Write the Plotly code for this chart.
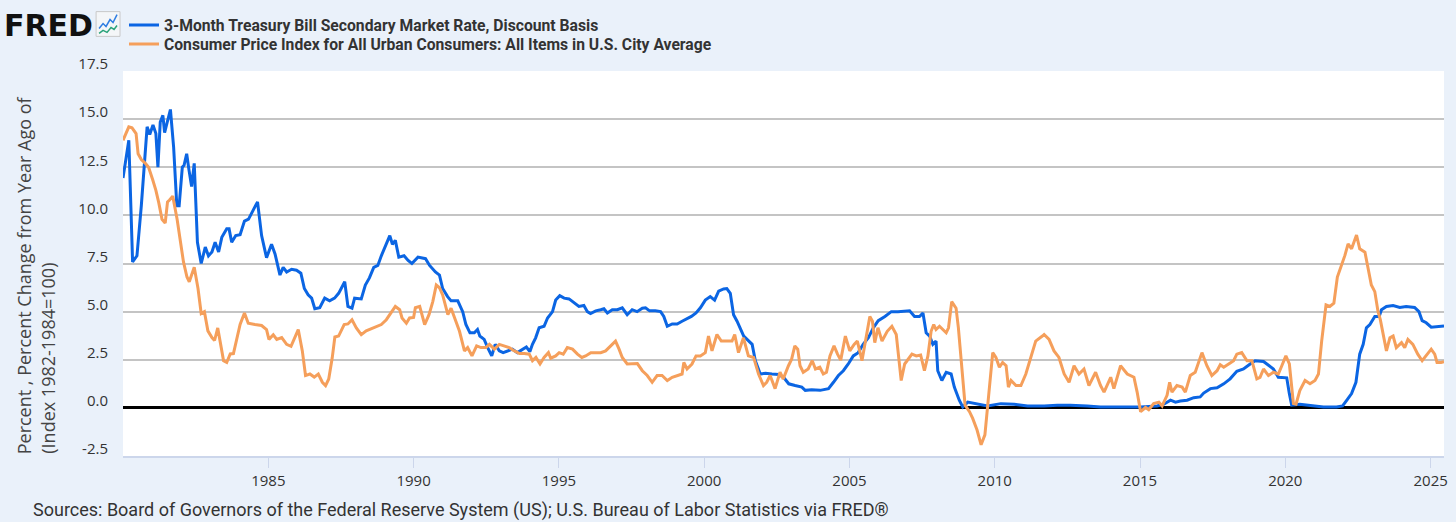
import pandas as pd
import plotly.graph_objects as go

# 3-Month Treasury Bill Secondary Market Rate, Discount Basis (percent)
tbill_t = [1980.0, 1980.2, 1980.33, 1980.48, 1980.63, 1980.83, 1980.92, 1981.03, 1981.13, 1981.2,
           1981.28, 1981.37, 1981.43, 1981.51, 1981.63, 1981.74, 1981.85, 1981.93, 1982.04, 1982.1,
           1982.19, 1982.27, 1982.36, 1982.45, 1982.56, 1982.69, 1982.83, 1982.94, 1983.06, 1983.17,
           1983.29, 1983.4, 1983.57, 1983.65, 1983.74, 1983.88, 1984.03, 1984.18, 1984.32, 1984.49,
           1984.63, 1984.77, 1984.94, 1985.11, 1985.23, 1985.4, 1985.51, 1985.63, 1985.8, 1985.97,
           1986.12, 1986.24, 1986.37, 1986.49, 1986.6, 1986.77, 1986.94, 1987.11, 1987.28, 1987.42,
           1987.63, 1987.74, 1987.88, 1987.97, 1988.2, 1988.34, 1988.48, 1988.63, 1988.77, 1988.89,
           1989.03, 1989.18, 1989.27, 1989.37, 1989.49, 1989.67, 1989.81, 1989.94, 1990.15, 1990.41,
           1990.55, 1990.75, 1990.89, 1991.0, 1991.17, 1991.29, 1991.52, 1991.69, 1991.8, 1991.94,
           1992.09, 1992.2, 1992.28, 1992.43, 1992.55, 1992.69, 1992.81, 1992.95, 1993.08, 1993.26,
           1993.4, 1993.57, 1993.75, 1993.88, 1994.0, 1994.09, 1994.2, 1994.32, 1994.49, 1994.61,
           1994.78, 1994.89, 1995.03, 1995.18, 1995.35, 1995.52, 1995.69, 1995.86, 1995.98, 1996.09,
           1996.27, 1996.44, 1996.55, 1996.67, 1996.84, 1997.01, 1997.18, 1997.35, 1997.52, 1997.69,
           1997.87, 1997.98, 1998.12, 1998.32, 1998.5, 1998.61, 1998.73, 1998.9, 1999.07, 1999.24,
           1999.41, 1999.56, 1999.72, 1999.87, 2000.04, 2000.21, 2000.36, 2000.5, 2000.67, 2000.78,
           2000.9, 2001.01, 2001.13, 2001.36, 2001.65, 2001.76, 2001.93, 2002.11, 2002.33, 2002.56,
           2002.73, 2002.91, 2003.13, 2003.36, 2003.48, 2003.7, 2003.99, 2004.28, 2004.45, 2004.62,
           2004.79, 2004.96, 2005.13, 2005.3, 2005.47, 2005.65, 2005.82, 2005.99, 2006.22, 2006.44,
           2006.67, 2006.9, 2007.07, 2007.24, 2007.41, 2007.53, 2007.64, 2007.76, 2007.87, 2007.98,
           2008.04, 2008.18, 2008.33, 2008.5, 2008.61, 2008.78, 2008.9, 2009.07, 2009.41, 2009.75,
           2010.21, 2010.67, 2011.13, 2011.7, 2012.15, 2012.6, 2013.18, 2013.64, 2015.02, 2015.59,
           2015.82, 2016.05, 2016.22, 2016.39, 2016.62, 2016.85, 2017.07, 2017.19, 2017.42, 2017.65,
           2017.88, 2018.1, 2018.33, 2018.56, 2018.79, 2018.96, 2019.25, 2019.42, 2019.59, 2019.76,
           2020.05, 2020.14, 2020.22, 2020.5, 2020.85, 2021.31, 2021.76, 2021.97, 2022.13, 2022.28,
           2022.43, 2022.56, 2022.68, 2022.79, 2022.91, 2023.08, 2023.23, 2023.31, 2023.48, 2023.71,
           2023.94, 2024.16, 2024.45, 2024.6, 2024.71, 2024.85, 2025.02, 2025.25, 2025.46]
tbill_v = [11.94, 13.9, 7.58, 7.9, 10.5, 14.6, 14.2, 14.7, 14.25, 12.5,
           14.85, 15.2, 14.3, 14.75, 15.5, 13.55, 10.5, 10.5, 12.5, 12.6,
           13.2, 12.35, 11.5, 12.7, 8.6, 7.5, 8.35, 7.9, 8.1, 8.6,
           8.1, 8.86, 9.3, 9.3, 8.6, 8.95, 9.0, 9.7, 9.8, 10.3,
           10.7, 8.95, 7.8, 8.5, 8.0, 6.9, 7.3, 7.06, 7.2, 7.15,
           7.0, 6.2, 5.87, 5.7, 5.15, 5.2, 5.7, 5.56, 5.7, 5.95,
           6.55, 5.27, 5.18, 5.7, 5.66, 6.38, 6.75, 7.3, 7.4, 7.9,
           8.43, 8.95, 8.5, 8.7, 7.83, 7.9, 7.66, 7.5, 7.83, 7.75,
           7.4, 7.06, 6.9, 6.2, 5.78, 5.56, 5.56, 5.0, 4.33, 3.9,
           3.9, 4.07, 3.73, 3.56, 3.13, 2.7, 3.3, 2.96, 2.87, 2.96,
           3.05, 2.87, 3.05, 3.16, 2.92, 3.3, 3.64, 4.16, 4.24, 4.67,
           5.0, 5.6, 5.83, 5.7, 5.66, 5.44, 5.27, 5.32, 5.0, 4.9,
           5.04, 5.1, 5.15, 4.93, 5.1, 5.1, 5.2, 4.84, 5.1, 5.0,
           5.18, 5.2, 5.04, 5.04, 5.0, 4.75, 4.24, 4.36, 4.36, 4.5,
           4.63, 4.75, 4.93, 5.2, 5.6, 5.78, 5.6, 6.07, 6.18, 6.2,
           5.95, 4.84, 4.5, 3.73, 3.3, 2.45, 1.76, 1.8, 1.76, 1.73,
           1.59, 1.25, 1.16, 1.08, 0.91, 0.94, 0.91, 1.0, 1.33, 1.68,
           1.93, 2.28, 2.7, 2.87, 3.3, 3.64, 4.16, 4.53, 4.75, 5.0,
           5.0, 5.04, 5.04, 4.75, 4.75, 4.93, 3.9, 3.73, 3.3, 3.47,
           1.93, 1.42, 1.85, 1.76, 1.08, 0.4, 0.05, 0.3, 0.19, 0.1,
           0.22, 0.19, 0.1, 0.1, 0.14, 0.14, 0.1, 0.05, 0.05, 0.1,
           0.19, 0.4, 0.3, 0.36, 0.4, 0.53, 0.57, 0.77, 1.0, 1.04,
           1.25, 1.51, 1.9, 2.02, 2.28, 2.45, 2.41, 2.19, 2.02, 1.59,
           1.56, 0.74, 0.14, 0.19, 0.14, 0.05, 0.05, 0.1, 0.43, 0.74,
           1.33, 2.79, 3.3, 4.16, 4.33, 4.75, 4.75, 5.1, 5.27, 5.32,
           5.22, 5.27, 5.22, 5.0, 4.53, 4.42, 4.19, 4.22, 4.26]

# CPI for All Urban Consumers, percent change from year ago
cpi_t = [1980.0, 1980.2, 1980.31, 1980.45, 1980.52, 1980.63, 1980.77, 1980.88, 1981.02, 1981.13,
         1981.23, 1981.34, 1981.45, 1981.53, 1981.6, 1981.71, 1981.86, 1981.97, 1982.08, 1982.2,
         1982.28, 1982.45, 1982.58, 1982.69, 1982.8, 1982.92, 1983.06, 1983.15, 1983.26, 1983.38,
         1983.46, 1983.57, 1983.69, 1983.8, 1983.91, 1984.03, 1984.18, 1984.31, 1984.54, 1984.77,
         1984.94, 1985.02, 1985.17, 1985.29, 1985.46, 1985.63, 1985.78, 1985.91, 1986.03, 1986.17,
         1986.28, 1986.43, 1986.58, 1986.72, 1986.86, 1986.97, 1987.08, 1987.2, 1987.29, 1987.42,
         1987.61, 1987.74, 1987.88, 1988.03, 1988.2, 1988.37, 1988.54, 1988.72, 1988.89, 1989.06,
         1989.23, 1989.37, 1989.52, 1989.6, 1989.75, 1989.86, 1990.0, 1990.06, 1990.21, 1990.38,
         1990.53, 1990.66, 1990.78, 1990.89, 1991.0, 1991.18, 1991.29, 1991.41, 1991.58, 1991.75,
         1991.86, 1992.01, 1992.17, 1992.32, 1992.49, 1992.61, 1992.78, 1992.95, 1993.12, 1993.29,
         1993.47, 1993.64, 1993.81, 1993.98, 1994.09, 1994.21, 1994.35, 1994.49, 1994.64, 1994.72,
         1994.89, 1995.01, 1995.15, 1995.29, 1995.47, 1995.64, 1995.79, 1995.92, 1996.1, 1996.27,
         1996.44, 1996.61, 1996.78, 1996.95, 1997.07, 1997.18, 1997.35, 1997.52, 1997.7, 1997.87,
         1998.04, 1998.21, 1998.38, 1998.55, 1998.73, 1998.9, 1999.07, 1999.24, 1999.3, 1999.41,
         1999.58, 1999.72, 1999.87, 2000.04, 2000.15, 2000.27, 2000.44, 2000.59, 2000.78, 2000.96,
         2001.05, 2001.18, 2001.35, 2001.52, 2001.7, 2001.87, 2002.04, 2002.15, 2002.27, 2002.44,
         2002.61, 2002.72, 2002.9, 2003.01, 2003.12, 2003.22, 2003.3, 2003.41, 2003.58, 2003.72,
         2003.83, 2003.98, 2004.1, 2004.21, 2004.33, 2004.47, 2004.59, 2004.7, 2004.86, 2005.01,
         2005.16, 2005.27, 2005.43, 2005.58, 2005.7, 2005.79, 2005.87, 2005.98, 2006.12, 2006.3,
         2006.46, 2006.61, 2006.73, 2006.78, 2006.9, 2007.03, 2007.15, 2007.3, 2007.45, 2007.58,
         2007.7, 2007.81, 2007.9, 2007.98, 2008.1, 2008.33, 2008.41, 2008.52, 2008.67, 2008.75,
         2008.86, 2008.98, 2009.13, 2009.24, 2009.39, 2009.53, 2009.66, 2009.78, 2009.93, 2010.04,
         2010.16, 2010.27, 2010.39, 2010.47, 2010.56, 2010.73, 2010.9, 2011.07, 2011.24, 2011.41,
         2011.64, 2011.7, 2011.87, 2012.04, 2012.21, 2012.39, 2012.56, 2012.73, 2012.9, 2013.07,
         2013.24, 2013.47, 2013.64, 2013.76, 2013.99, 2014.1, 2014.33, 2014.56, 2014.79, 2014.9,
         2015.02, 2015.19, 2015.3, 2015.47, 2015.65, 2015.76, 2015.93, 2016.02, 2016.1, 2016.27,
         2016.45, 2016.56, 2016.73, 2016.9, 2017.13, 2017.3, 2017.47, 2017.65, 2017.76, 2017.88,
         2018.05, 2018.22, 2018.33, 2018.5, 2018.68, 2018.85, 2019.02, 2019.13, 2019.25, 2019.42,
         2019.59, 2019.76, 2019.88, 2020.02, 2020.14, 2020.28, 2020.37, 2020.5, 2020.68, 2020.85,
         2021.02, 2021.14, 2021.25, 2021.4, 2021.53, 2021.67, 2021.79, 2021.93, 2022.05, 2022.16,
         2022.28, 2022.45, 2022.56, 2022.74, 2022.85, 2022.96, 2023.08, 2023.19, 2023.27, 2023.36,
         2023.48, 2023.6, 2023.71, 2023.82, 2024.0, 2024.11, 2024.22, 2024.39, 2024.56, 2024.71,
         2024.85, 2025.02, 2025.14, 2025.22, 2025.36, 2025.46]
cpi_v = [13.9, 14.6, 14.55, 14.25, 13.2, 12.9, 12.7, 12.5, 11.85, 11.3,
         10.65, 9.8, 9.6, 10.7, 10.8, 11.0, 9.8, 8.6, 7.58, 6.8,
         6.55, 7.3, 6.2, 4.9, 5.0, 4.0, 3.65, 3.5, 4.15, 3.13,
         2.45, 2.36, 2.8, 2.82, 3.47, 4.33, 4.93, 4.4, 4.33, 4.28,
         4.07, 3.56, 3.8, 3.56, 3.65, 3.3, 3.2, 3.65, 4.07, 2.96,
         1.68, 1.76, 1.6, 1.76, 1.33, 1.16, 1.5, 2.6, 3.68, 3.73,
         4.33, 4.36, 4.58, 4.15, 3.8, 4.0, 4.1, 4.24, 4.33, 4.58,
         4.93, 5.27, 5.1, 4.67, 4.4, 4.67, 4.7, 5.2, 5.27, 4.33,
         4.84, 5.52, 6.38, 6.24, 5.87, 4.84, 5.18, 4.67, 3.98, 2.96,
         3.13, 2.7, 3.22, 3.13, 3.13, 3.3, 3.05, 3.3, 3.22, 3.13,
         2.96, 2.82, 2.82, 2.79, 2.45, 2.62, 2.28, 2.62, 2.87, 2.58,
         2.7, 2.87, 2.79, 3.13, 3.05, 2.79, 2.62, 2.7, 2.87, 2.87,
         2.87, 2.96, 3.22, 3.47, 3.05, 2.62, 2.28, 2.28, 2.3, 1.93,
         1.68, 1.33, 1.68, 1.68, 1.42, 1.59, 1.68, 1.76, 2.36, 2.02,
         2.28, 2.7, 2.7, 2.87, 3.73, 2.96, 3.81, 3.47, 3.47, 3.47,
         3.81, 2.87, 3.64, 2.7, 2.62, 1.76, 1.16, 1.33, 1.68, 1.0,
         1.85, 1.5, 2.19, 2.53, 3.22, 3.05, 2.19, 1.85, 2.02, 2.45,
         2.02, 2.11, 1.76, 1.85, 2.7, 3.22, 2.79, 2.48, 3.73, 2.96,
         3.3, 3.47, 2.45, 3.73, 4.75, 4.5, 3.39, 4.16, 3.47, 3.98,
         4.24, 3.81, 2.28, 1.42, 2.28, 2.53, 2.79, 2.7, 2.75, 1.93,
         2.7, 3.98, 4.33, 4.07, 4.24, 3.9, 4.16, 5.52, 5.18, 4.16,
         2.11, 0.14, -0.2, -0.55, -1.15, -1.92, -1.4, 0.57, 2.87, 2.62,
         2.11, 2.36, 2.19, 1.08, 1.42, 1.16, 1.16, 1.76, 2.62, 3.47,
         3.73, 3.81, 3.56, 2.96, 2.62, 1.76, 1.33, 2.19, 1.76, 2.02,
         1.16, 1.85, 1.16, 0.82, 1.59, 1.0, 2.19, 1.76, 1.59, 0.82,
         -0.2, 0.02, -0.1, 0.22, 0.3, 0.1, 0.65, 1.33, 0.82, 1.16,
         1.08, 0.82, 1.68, 1.85, 2.87, 2.19, 1.68, 1.93, 2.24, 2.11,
         2.28, 2.45, 2.79, 2.87, 2.45, 2.45, 1.51, 1.59, 2.02, 1.68,
         1.85, 1.76, 2.19, 2.7, 2.28, 0.22, 0.19, 0.9, 1.42, 1.25,
         1.42, 1.76, 3.47, 5.35, 5.27, 5.44, 6.8, 7.4, 7.92, 8.52,
         8.26, 8.98, 8.26, 8.09, 7.23, 6.38, 6.04, 5.01, 4.58, 3.9,
         2.96, 3.64, 3.73, 3.13, 3.39, 3.13, 3.56, 3.3, 2.79, 2.45,
         2.7, 3.05, 2.79, 2.36, 2.36, 2.4]

Y_TICKS = [-2.5, 0.0, 2.5, 5.0, 7.5, 10.0, 12.5, 15.0, 17.5]
X_TICK_YEARS = [1985, 1990, 1995, 2000, 2005, 2010, 2015, 2020, 2025]

BG = "#eaf1fa"
BLUE = "#0b65e3"
ORANGE = "#f59f5b"

# plot area in pixels (for placing logo / notes)
L, R, T, B = 123, 8, 67, 66
W, H = 1456, 522
PW, PH = W - L - R, H - T - B


def to_date(y):
    yr = int(y)
    return pd.Timestamp(year=yr, month=1, day=1) + pd.Timedelta(days=(y - yr) * 365.25)


def px(x):
    return (x - L) / PW


def py(y):
    return (H - B - y) / PH


fig = go.Figure()
fig.add_trace(go.Scatter(
    x=[to_date(t) for t in tbill_t], y=tbill_v, mode="lines",
    name="3-Month Treasury Bill Secondary Market Rate, Discount Basis",
    line=dict(color=BLUE, width=3), legend="legend"))
fig.add_trace(go.Scatter(
    x=[to_date(t) for t in cpi_t], y=cpi_v, mode="lines",
    name="Consumer Price Index for All Urban Consumers: All Items in U.S. City Average",
    line=dict(color=ORANGE, width=3), legend="legend2"))

fig.update_xaxes(
    range=[to_date(1980.0), to_date(2025.46)],
    tickvals=[pd.Timestamp(year=y, month=1, day=1) for y in X_TICK_YEARS],
    ticktext=[str(y) for y in X_TICK_YEARS],
    showgrid=False, showline=True, linecolor="#ccd6eb", linewidth=2,
    ticks="outside", ticklen=10, tickcolor="#ccd6eb", tickwidth=1,
    tickfont=dict(family="Open Sans", size=15, color="#333333"))
fig.update_yaxes(
    range=[-2.5, 17.5], tickvals=Y_TICKS, ticktext=[f"{v:.1f}" for v in Y_TICKS],
    showgrid=True, gridcolor="#c4c4c4", gridwidth=1.6,
    zeroline=True, zerolinecolor="#000000", zerolinewidth=2.5,
    showline=False, ticks="", ticklabelstandoff=14, ticklabelshift=-7,
    tickfont=dict(family="Open Sans", size=15, color="#333333"))

# FRED logo
fig.add_annotation(xref="paper", yref="paper", x=px(2), y=py(21), xanchor="left", yanchor="middle",
                   text="<b>FRED</b>", showarrow=False,
                   font=dict(family="DejaVu Sans", size=30, color="#111111"))
fig.add_shape(type="rect", xref="paper", yref="paper", x0=px(96), x1=px(120), y0=py(32), y1=py(7),
              line=dict(color="#c8c8c8", width=1), fillcolor="#f4f6f8")
fig.add_shape(type="path", xref="paper", yref="paper",
              path=f"M {px(99)} {py(24)} L {px(103)} {py(19)} L {px(106)} {py(22)} L {px(110)} {py(15)} "
                   f"L {px(113)} {py(18)} L {px(117)} {py(10)}",
              line=dict(color="#2f7de1", width=1.5))
fig.add_shape(type="path", xref="paper", yref="paper",
              path=f"M {px(99)} {py(29)} L {px(103)} {py(26)} L {px(107)} {py(28)} L {px(111)} {py(23)} "
                   f"L {px(114)} {py(25)} L {px(117)} {py(21)}",
              line=dict(color="#2aa37a", width=1.5))

# y-axis title, two lines, both starting at the bottom of the plot
fig.add_annotation(xref="paper", yref="paper", x=px(24), y=0, xanchor="center", yanchor="bottom",
                   textangle=-90, showarrow=False,
                   text="Percent , Percent Change from Year Ago of",
                   font=dict(family="Open Sans", size=18, color="#444444"))
fig.add_annotation(xref="paper", yref="paper", x=px(47), y=0, xanchor="center", yanchor="bottom",
                   textangle=-90, showarrow=False,
                   text="(Index 1982-1984=100)",
                   font=dict(family="Open Sans", size=18, color="#444444"))

# source note
fig.add_annotation(xref="paper", yref="paper", x=px(31), y=py(511), xanchor="left", yanchor="middle",
                   showarrow=False,
                   text="Sources: Board of Governors of the Federal Reserve System (US); "
                        "U.S. Bureau of Labor Statistics via FRED®",
                   font=dict(family="Roboto", size=18, color="#333333"))

legend_font = dict(family="Roboto", size=15.7, color="#333333", weight="bold")
fig.update_layout(
    width=W, height=H,
    margin=dict(l=L, r=R, t=T, b=B),
    paper_bgcolor=BG, plot_bgcolor="#ffffff",
    showlegend=True,
    legend=dict(x=px(124), y=py(20.7), xanchor="left", yanchor="middle",
                bgcolor="rgba(0,0,0,0)", itemclick=False, font=legend_font),
    legend2=dict(x=px(124), y=py(40), xanchor="left", yanchor="middle",
                 bgcolor="rgba(0,0,0,0)", itemclick=False, font=legend_font),
)

fig.write_html("out.html", config={"displayModeBar": False},
               post_script="document.body.style.margin='0';")
